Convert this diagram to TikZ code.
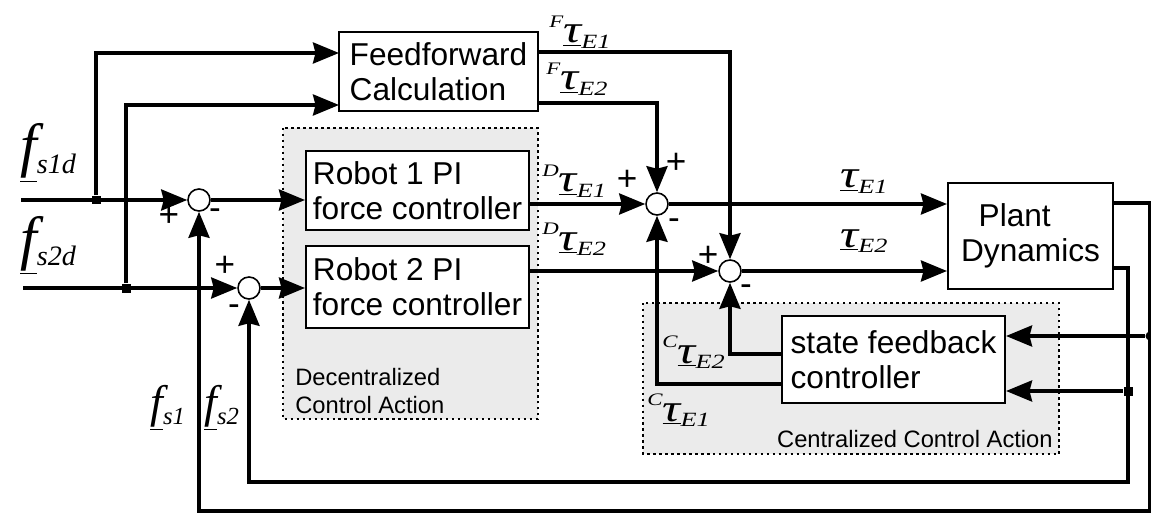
\documentclass[tikz,border=0pt]{standalone}
\usepackage{fontspec}
\usepackage{graphicx}
\setmainfont{Liberation Sans}
\newfontfamily\tms{Liberation Serif}
\usepackage{tikz}
\usetikzlibrary{positioning}
\usetikzlibrary{arrows.meta,calc}
\tikzset{
	block/.style={draw, line width=1.2pt, fill=white, align=left, inner sep=0pt, font=\fontsize{18}{20}\selectfont},
	sumnode/.style={draw, circle, line width=0.9pt, fill=white, minimum size=0.44cm, inner sep=0pt},
	region/.style={draw, dotted, line width=1.4pt, fill=gray!16},
	wire/.style={line width=2pt},
	sig/.style={wire, -{Stealth[length=0.52cm,width=0.42cm,inset=0.05cm]}},
	knot/.style={fill, rectangle, minimum size=0.18cm, inner sep=0pt},
	rknot/.style={fill, circle, minimum size=0.18cm, inner sep=0pt},
	pm/.style={font=\fontsize{20}{20}\selectfont, inner sep=0pt},
	regionlbl/.style={font=\fontsize{13.5}{15.5}\selectfont, align=left, inner sep=0pt},
	siglbl/.style={inner sep=0pt, anchor=base west},
}
% tau signal: superscript, subscript number
\newcommand{\tausig}[2]{\scalebox{1.3}[1]{\tms\itshape\raisebox{9pt}{\fontsize{10}{10}\selectfont #1}\fontsize{22}{22}\selectfont\underline{τ}\raisebox{-3pt}{\fontsize{11.5}{11.5}\selectfont E#2}}}
% force signal: size of f, size of subscript, subscript
\newcommand{\forcesig}[3]{{\tms\itshape\fontsize{#1}{#1}\selectfont\underline{f}\raisebox{-4pt}{\fontsize{#2}{#2}\selectfont s#3}}}

\begin{document}
\begin{tikzpicture}[x=0.02cm, y=-0.02cm]
	\useasboundingbox (0,0) rectangle (1151,513);
	% shaded areas
	\draw[region] (283,128) rectangle (538,419);
	\draw[region] (643,303) rectangle (1059,454);
	\node[regionlbl, anchor=west] (declbl) at (295,391) {Decentralized\\Control Action};
	\node[regionlbl, anchor=east] (cenlbl) at (1053,439) {Centralized Control Action};
	% blocks
	\node[block, minimum width=3.98cm, minimum height=1.58cm] (ff) at (438.5,71.5) {Feedforward\\Calculation};
	\node[block, minimum width=4.46cm, minimum height=1.58cm] (robA) at (417.5,190.5) {Robot 1 PI\\force controller};
	\node[block, minimum width=4.46cm, minimum height=1.64cm] (robB) at (417.5,287) {Robot 2 PI\\force controller};
	\node[block, minimum width=3.3cm, minimum height=2.12cm] (plant) at (1030.5,236) {\hspace*{10pt}Plant\\Dynamics};
	\node[block, minimum width=4.46cm, minimum height=1.74cm] (sfb) at (893.5,359.5) {state feedback\\controller};
	% summing points
	\node[sumnode] (sumA) at (199,200) {};
	\node[sumnode] (sumB) at (249,288) {};
	\node[sumnode] (sumC) at (657,204) {};
	\node[sumnode] (sumD) at (730,271) {};
	% branch points and free ends
	\coordinate (inA) at (21,200);
	\coordinate (inB) at (23,288);
	\node[knot] (jA) at (96,200) {};
	\node[knot] (jB) at (126,288) {};
	\coordinate (ffinA) at (339,53);
	\coordinate (ffinB) at (339,105);
	\coordinate (ffoutA) at (538,52);
	\coordinate (ffoutB) at (538,103);
	\coordinate (pA) at (1113,203);
	\coordinate (pB) at (1113,268);
	\coordinate (cA) at (1150,511);
	\coordinate (cB) at (1128,482);
	\node[rknot] (jC) at (1150,336) {};
	\node[knot] (jD) at (1128,391) {};
	\coordinate (sfoA) at (782,354);
	\coordinate (sfoB) at (782,384);
	% connections
	\draw[sig] (inA) -- (sumA);
	\draw[sig] (inB) -- (sumB);
	\draw[sig] (jA) |- (ffinA);
	\draw[sig] (jB) |- (ffinB);
	\draw[sig] (sumA) -- (sumA -| robA.west);
	\draw[sig] (sumB) -- (sumB -| robB.west);
	\draw[sig] (sumC -| robA.east) -- (sumC);
	\draw[sig] (sumD -| robB.east) -- (sumD);
	\draw[sig] (ffoutA) -| (sumD);
	\draw[sig] (ffoutB) -| (sumC);
	\draw[sig] (sumC) -- (sumC -| plant.west);
	\draw[sig] (sumD) -- (sumD -| plant.west);
	\draw[sig] (pA) -| (cA) -| (sumA);
	\draw[sig] (pB) -| (cB) -| (sumB);
	\draw[sig] (jC) -- (jC -| sfb.east);
	\draw[sig] (jD) -- (jD -| sfb.east);
	\draw[sig] (sfoA) -| (sumD);
	\draw[sig] (sfoB) -| (sumC);
	% signs
	\node[pm] (pmA) at (169,216) {+};
	\node[pm] (mA) at (215,214) {-};
	\node[pm] (pmB) at (225,266) {+};
	\node[pm] (mB) at (234,310) {-};
	\node[pm] (pmC) at (627,180) {+};
	\node[pm] (pmCC) at (676,163) {+};
	\node[pm] (mC) at (674,224) {-};
	\node[pm] (pmD) at (708,256) {+};
	\node[pm] (mD) at (746,290) {-};
	% signal names
	\node[siglbl] (fsAd) at (20,166) {\forcesig{34}{16}{1d}};
	\node[siglbl] (fsBd) at (20,258) {\forcesig{34}{16}{2d}};
	\node[siglbl] (fsA) at (150,417) {\forcesig{26}{14}{1}};
	\node[siglbl] (fsB) at (204,417) {\forcesig{26}{14}{2}};
	\node[siglbl] (tFA) at (549,43) {\tausig{F}{1}};
	\node[siglbl] (tFB) at (546,90) {\tausig{F}{2}};
	\node[siglbl] (tDA) at (542,192) {\tausig{D}{1}};
	\node[siglbl] (tDB) at (542,250) {\tausig{D}{2}};
	\node[siglbl] (tA) at (840,188) {\tausig{}{1}};
	\node[siglbl] (tB) at (840,247) {\tausig{}{2}};
	\node[siglbl] (tCB) at (662,363) {\tausig{C}{2}};
	\node[siglbl] (tCA) at (647,421) {\tausig{C}{1}};
\end{tikzpicture}
\end{document}
